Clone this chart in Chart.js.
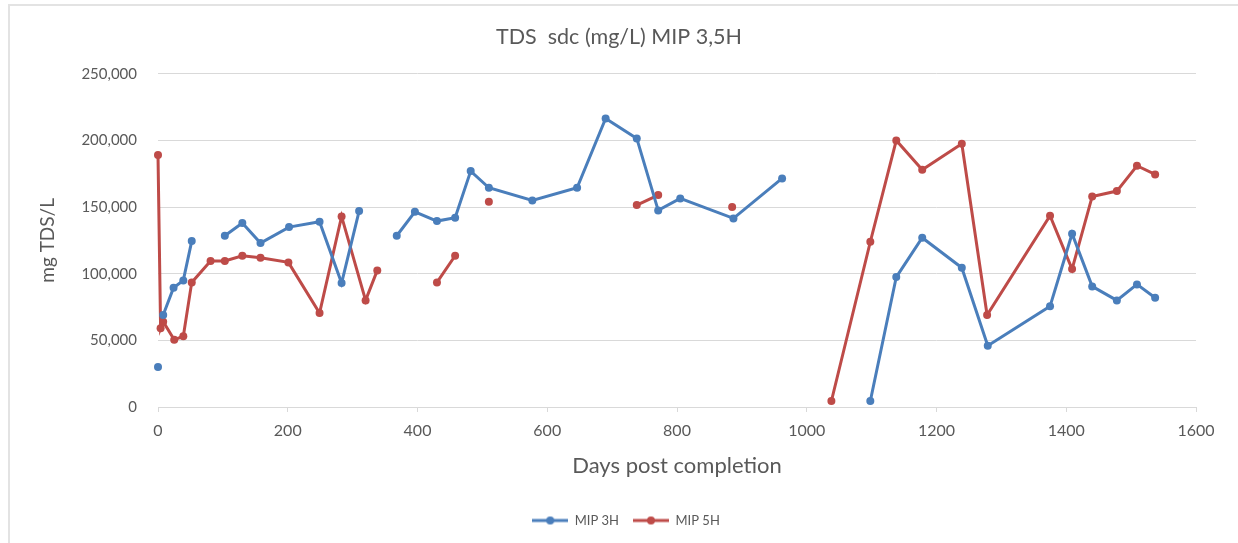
<!DOCTYPE html>
<html>
<head>
<meta charset="utf-8">
<script src="https://cdn.jsdelivr.net/npm/chart.js@4.4.1/dist/chart.umd.min.js"></script>
<style>
  html, body { margin: 0; padding: 0; background: #fff; }
  #wrap { position: relative; width: 1238px; height: 543px; }
  #frame {
    position: absolute; left: 8px; top: 4px; right: -4px; bottom: -4px;
    border-left: 2px solid #e3e3e3; border-top: 2px solid #e3e3e3;
    pointer-events: none;
  }
</style>
</head>
<body>
<div id="wrap">
  <canvas id="tds-chart" width="1238" height="543"></canvas>
  <div id="frame"></div>
</div>
<script>
//
// Data (null = break in the line)
//
const mip3Days = [0, 4, 8, 24, 39, 52, 78, 103, 130, 158, 202, 249, 283, 310, 340,
    368, 396, 430, 458, 482, 510, 577, 646, 690, 738, 771, 805, 887, 962, 1030,
    1098, 1138, 1178, 1239, 1279, 1375, 1409, 1440, 1478, 1509, 1537];
const mip3Tds = [30000, null, 69000, 89500, 95000, 124500, null, 128500, 138000, 123000, 135000, 139000, 93000, 147000, null,
    128500, 146500, 139500, 142000, 177000, 164500, 155000, 164500, 216500, 201500, 147500, 156500, 141500, 171500, null,
    4500, 97500, 127000, 104500, 46000, 75500, 130000, 90500, 80000, 92000, 82000];

const mip5Days = [0, 4, 8, 25, 39, 52, 81, 103, 130, 158, 201, 249, 283, 320, 338, 390,
    430, 458, 490, 510, 600, 738, 771, 830, 885, 960,
    1038, 1098, 1138, 1178, 1239, 1278, 1375, 1409, 1440, 1478, 1509, 1537];
const mip5Tds = [189000, 59000, 64000, 50500, 53000, 93500, 109500, 109500, 113500, 112000, 108500, 70500, 143000, 80000, 102500, null,
    93500, 113500, null, 154000, null, 151500, 159000, null, 150000, null,
    4500, 124000, 200000, 178000, 197500, 69000, 143500, 103500, 158000, 162000, 181000, 174500];

const xTicks = [0, 200, 400, 600, 800, 1000, 1200, 1400, 1600];
const yTicks = [0, 50000, 100000, 150000, 200000, 250000];

const blue = '#4a7ebb';
const red = '#be4b48';
const textColor = '#595959';
const gridColor = '#d9d9d9';
const fontFamily = 'Lato, "Open Sans", sans-serif';

function toPoints(days, vals) {
    const pts = [];
    for (let i = 0; i < days.length; i++) {
        pts.push({ x: days[i], y: vals[i] });
    }
    return pts;
}

// legend marker: line with a dot in the middle
function legendMarker(color) {
    const c = document.createElement('canvas');
    c.width = 36;
    c.height = 10;
    const g = c.getContext('2d');
    g.strokeStyle = color;
    g.lineWidth = 3;
    g.beginPath();
    g.moveTo(0, 5);
    g.lineTo(36, 5);
    g.stroke();
    g.fillStyle = color;
    g.beginPath();
    g.arc(18, 5, 4, 0, Math.PI * 2);
    g.fill();
    return c;
}

// title and legend are centred on the whole frame in the original,
// not on the box left of the right padding
const centreShift = {
    id: 'centreShift',
    afterLayout(chart) {
        chart.titleBlock.left += 21;
        chart.titleBlock.right += 21;
        chart.legend.left += 28;
        chart.legend.right += 28;
    }
};

const tdsCanvas = document.getElementById('tds-chart');

let tdsData = {
    datasets: [{
        label: 'MIP 3H',
        data: toPoints(mip3Days, mip3Tds),
        borderColor: blue,
        backgroundColor: blue,
        borderWidth: 3,
        pointRadius: 4,
        pointBorderWidth: 0,
        tension: 0,
        spanGaps: false,
        clip: false
    }, {
        label: 'MIP 5H',
        data: toPoints(mip5Days, mip5Tds),
        borderColor: red,
        backgroundColor: red,
        borderWidth: 3,
        pointRadius: 4,
        pointBorderWidth: 0,
        tension: 0,
        spanGaps: false,
        clip: false
    }]
};

let tdsOptions = {
    responsive: false,
    animation: { duration: 0 },
    layout: {
        padding: { left: 0, right: 42, top: 0, bottom: 6 }
    },
    scales: {
        x: {
            type: 'linear',
            min: 0,
            max: 1600,
            afterBuildTicks: (axis) => { axis.ticks = xTicks.map(v => ({ value: v })); },
            afterFit: (axis) => { axis.height = 93; },
            grid: {
                display: true,
                drawOnChartArea: false,
                drawTicks: true,
                tickLength: 5,
                color: gridColor
            },
            border: { color: gridColor, width: 1 },
            ticks: {
                color: textColor,
                font: { family: fontFamily, size: 16 },
                padding: 9,
                maxRotation: 0,
                callback: (v) => String(v)
            },
            title: {
                display: true,
                text: 'Days post completion',
                color: textColor,
                font: { family: fontFamily, size: 22 },
                padding: { top: 0, bottom: 21 }
            }
        },
        y: {
            min: 0,
            max: 250000,
            afterBuildTicks: (axis) => { axis.ticks = yTicks.map(v => ({ value: v })); },
            afterFit: (axis) => { axis.width = 158; },
            grid: {
                color: gridColor,
                drawTicks: false
            },
            border: { display: false },
            ticks: {
                color: textColor,
                font: { family: fontFamily, size: 15 },
                padding: 21,
                callback: (v) => v.toLocaleString('en-US')
            },
            title: {
                display: true,
                text: 'mg TDS/L',
                color: textColor,
                font: { family: fontFamily, size: 19 },
                padding: { top: 36, bottom: 0 }
            }
        }
    },
    plugins: {
        title: {
            display: true,
            text: 'TDS  sdc (mg/L) MIP 3,5H',
            color: textColor,
            font: { family: fontFamily, size: 21.5, weight: 'normal' },
            padding: { top: 24, bottom: 24 }
        },
        legend: {
            position: 'bottom',
            labels: {
                color: textColor,
                font: { family: fontFamily, size: 13 },
                usePointStyle: true,
                pointStyleWidth: 36,
                padding: 14,
                generateLabels: (chart) => {
                    const items = Chart.defaults.plugins.legend.labels.generateLabels(chart);
                    items.forEach((item, i) => {
                        item.pointStyle = legendMarker(chart.data.datasets[i].borderColor);
                    });
                    return items;
                }
            }
        },
        tooltip: { enabled: false }
    }
};

let tdsChart = new Chart(tdsCanvas, {
    type: 'line',
    data: tdsData,
    options: tdsOptions,
    plugins: [centreShift]
});
</script>
</body>
</html>
